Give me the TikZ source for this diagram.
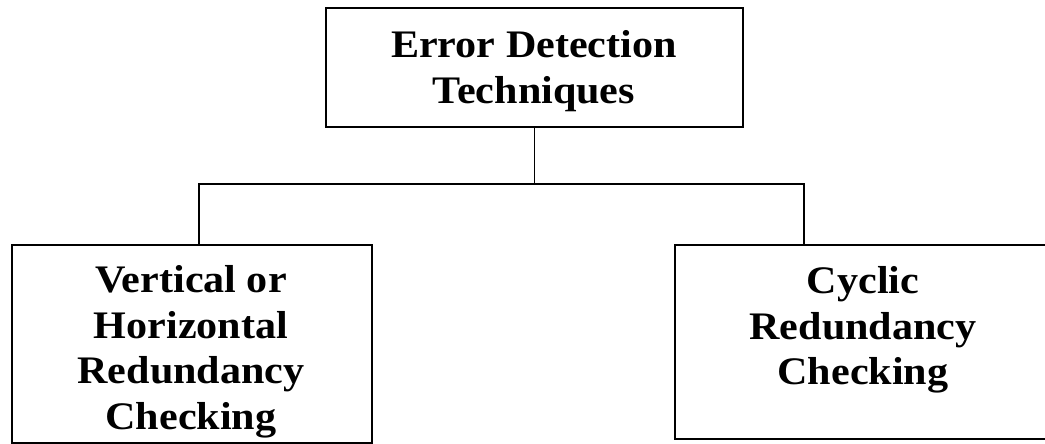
\documentclass[tikz,border=0pt]{standalone}
\usepackage{fontspec}
\setmainfont[FakeStretch=1.08]{Liberation Serif}
\begin{document}
\begin{tikzpicture}[x=1pt,y=-1pt,
  box/.style={draw=black, line width=1.6pt, inner sep=0pt},
  lbl/.style={align=center, inner sep=0pt, font=\fontsize{39}{45.5}\selectfont\bfseries},
  conn/.style={draw=black, line width=1.6pt}]
\useasboundingbox (0,0) rectangle (1045,444);
% boxes
\node[box, minimum width=417pt, minimum height=119pt] (top) at (534.5,67.5) {};
\node[box, minimum width=360pt, minimum height=198pt] (left) at (192,344) {};
\node[box, minimum width=376pt, minimum height=194pt] (right) at (863,342) {};
% labels
\node[lbl] (toplbl) at (534,71) {Error Detection\\Techniques};
\node[lbl] (leftlbl) at (191,352) {Vertical or\\Horizontal\\Redundancy\\Checking};
\node[lbl] (rightlbl) at (863,330) {Cyclic\\Redundancy\\Checking};
% connectors
\coordinate (hub) at (534.5,184);
\coordinate (lx) at (199,0);
\coordinate (rx) at (804,0);
\draw[conn] (top.south) -- (top.south |- hub);
\draw[conn] (left.north -| lx) |- (hub) -| (right.north -| rx);
\end{tikzpicture}
\end{document}
